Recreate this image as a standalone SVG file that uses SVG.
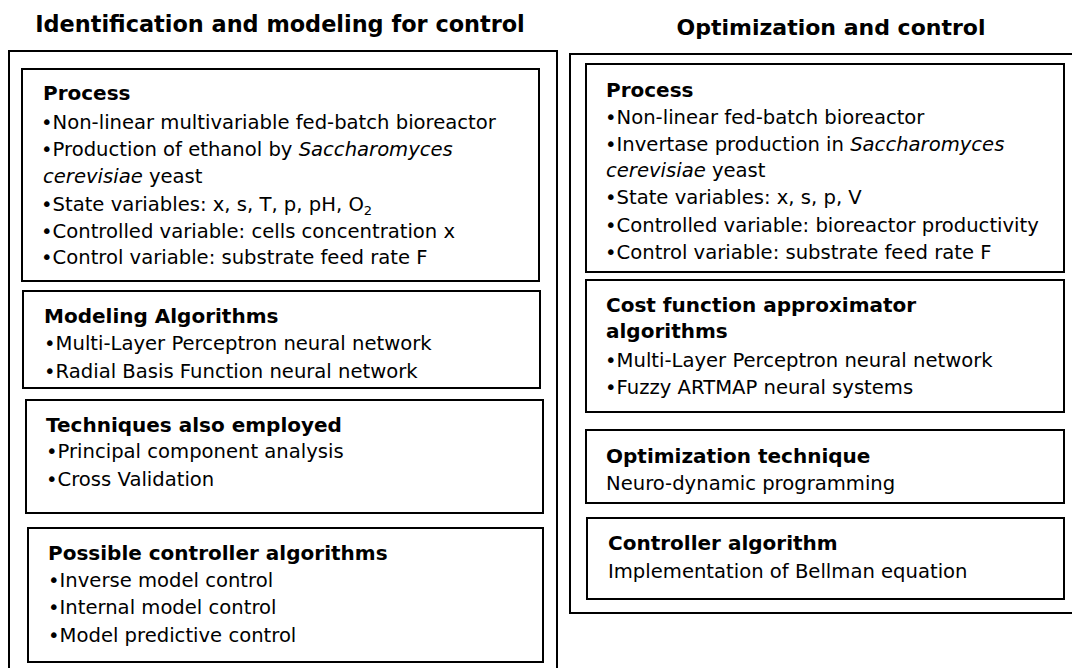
<svg xmlns="http://www.w3.org/2000/svg" width="1072" height="668" viewBox="0 0 1072 668">
<style>
.box{fill:none;stroke:#000;stroke-width:2}
text{font-family:"DejaVu Sans",sans-serif;font-size:19.6px;fill:#000}
.t{font-size:22px;font-weight:bold;text-anchor:middle}
.h{font-weight:bold;font-size:20px}
.i{font-style:italic}
.sub{font-size:13px}
</style>
<rect width="1072" height="668" fill="#fff"/>
<g id="left-panel">
<rect class="box" x="9" y="51" width="548" height="630"/>
<text class="t" x="280" y="32" style="font-size:22.4px">Identification and modeling for control</text>
</g>
<g id="left-process">
<rect class="box" x="22" y="69" width="517" height="212"/>
<text class="h" x="43" y="100">Process</text>
<text x="41" y="129">•Non-linear multivariable fed-batch bioreactor</text>
<text x="41" y="156">•Production of ethanol by <tspan class="i">Saccharomyces</tspan></text>
<text x="43" y="183"><tspan class="i">cerevisiae</tspan> yeast</text>
<text x="41" y="211">•State variables: x, s, T, p, pH, O<tspan class="sub" dy="4">2</tspan></text>
<text x="41" y="238">•Controlled variable: cells concentration x</text>
<text x="41" y="264">•Control variable: substrate feed rate F</text>
</g>
<g id="left-modeling">
<rect class="box" x="23" y="291" width="517" height="97"/>
<text class="h" x="44" y="323">Modeling Algorithms</text>
<text x="44" y="350">•Multi-Layer Perceptron neural network</text>
<text x="44" y="378">•Radial Basis Function neural network</text>
</g>
<g id="left-techniques">
<rect class="box" x="26" y="400" width="517" height="113"/>
<text class="h" x="46" y="432">Techniques also employed</text>
<text x="46" y="458">•Principal component analysis</text>
<text x="46" y="486">•Cross Validation</text>
</g>
<g id="left-controllers">
<rect class="box" x="28" y="528" width="515" height="134"/>
<text class="h" x="48" y="560">Possible controller algorithms</text>
<text x="48" y="587">•Inverse model control</text>
<text x="48" y="614">•Internal model control</text>
<text x="48" y="642">•Model predictive control</text>
</g>
<g id="right-panel">
<rect class="box" x="570" y="54" width="510" height="559"/>
<text class="t" x="831" y="35">Optimization and control</text>
</g>
<g id="right-process">
<rect class="box" x="586" y="64" width="478" height="208"/>
<text class="h" x="606" y="97">Process</text>
<text x="605" y="124">•Non-linear fed-batch bioreactor</text>
<text x="605" y="151">•Invertase production in <tspan class="i">Saccharomyces</tspan></text>
<text x="606" y="177"><tspan class="i">cerevisiae</tspan> yeast</text>
<text x="605" y="204">•State variables: x, s, p, V</text>
<text x="605" y="232">•Controlled variable: bioreactor productivity</text>
<text x="605" y="259">•Control variable: substrate feed rate F</text>
</g>
<g id="right-cost">
<rect class="box" x="586" y="280" width="478" height="132"/>
<text class="h" x="606" y="312">Cost function approximator</text>
<text class="h" x="606" y="338">algorithms</text>
<text x="605" y="367">•Multi-Layer Perceptron neural network</text>
<text x="605" y="394">•Fuzzy ARTMAP neural systems</text>
</g>
<g id="right-optimization">
<rect class="box" x="586" y="430" width="478" height="73"/>
<text class="h" x="606" y="463">Optimization technique</text>
<text x="606" y="490">Neuro-dynamic programming</text>
</g>
<g id="right-controller">
<rect class="box" x="587" y="518" width="477" height="81"/>
<text class="h" x="608" y="550">Controller algorithm</text>
<text x="608" y="578">Implementation of Bellman equation</text>
</g>
<g id="connectors"></g>
</svg>
